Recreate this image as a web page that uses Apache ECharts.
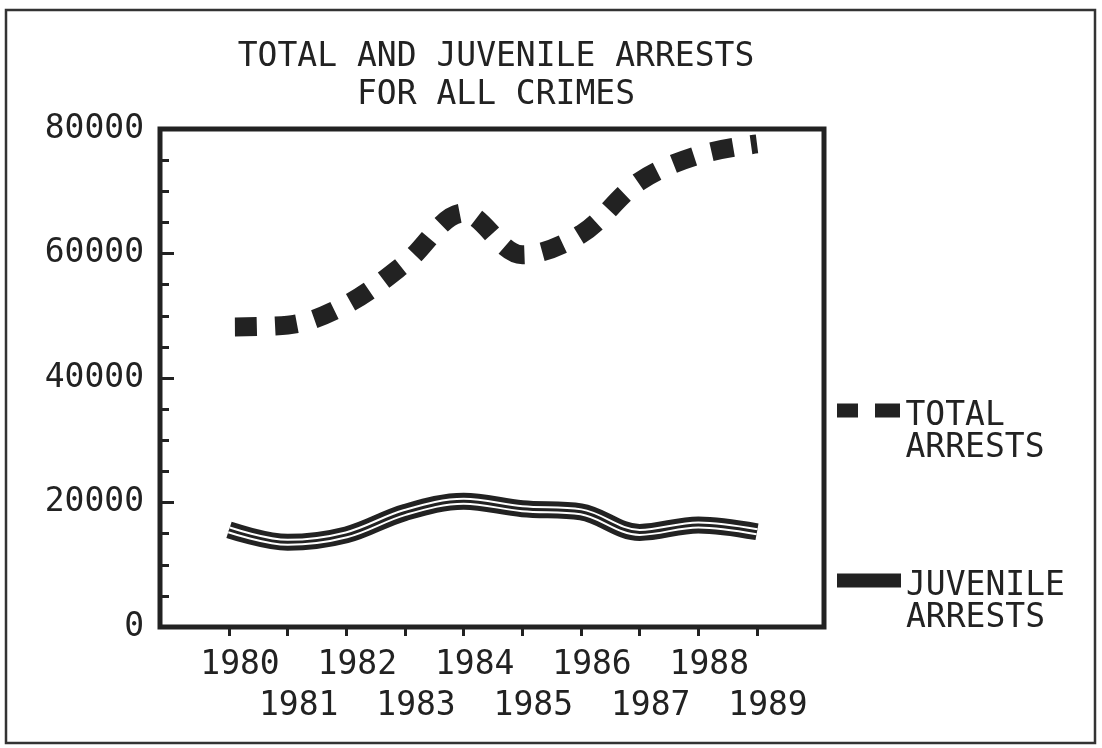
<!DOCTYPE html>
<html>
<head>
<meta charset="utf-8">
<script src="https://cdn.jsdelivr.net/npm/echarts@6/dist/echarts.min.js"></script>
<style>
html,body{margin:0;padding:0;background:#fff;}
#chart{width:1102px;height:748px;}
</style>
</head>
<body>
<div id="chart"></div>
<script>
var years = [1980, 1981, 1982, 1983, 1984, 1985, 1986, 1987, 1988, 1989];
var totalArrests = [48200, 48500, 51800, 58400, 66500, 59800, 63100, 71600, 75800, 77600];
var juvenileArrests = [15600, 13600, 14800, 18400, 20200, 19000, 18500, 15200, 16400, 15300];
var titleLines = ['TOTAL AND JUVENILE ARRESTS', 'FOR ALL CRIMES'];
var seriesNames = ['TOTAL ARRESTS', 'JUVENILE ARRESTS'];

var INK = '#222';
var FONT = "'DejaVu Sans Mono', 'Liberation Mono', monospace";

function pairs(vals) { return years.map(function (y, i) { return [y, vals[i]]; }); }

var chart = echarts.init(document.getElementById('chart'));
var legendCommon = {
  orient: 'vertical', padding: 0, itemWidth: 64, itemHeight: 14, left: 837,
  selectedMode: false,
  itemStyle: { color: INK, borderWidth: 0 },
  formatter: function (n) {
    var p = n.split(' ');
    return '{s| }\n{t|' + p[0] + '}\n{t|' + p[1] + '}';
  },
  textStyle: {
    fontFamily: FONT, fontSize: 33, color: INK,
    rich: {
      s: { fontFamily: FONT, fontSize: 33, lineHeight: 44 },
      t: { fontFamily: FONT, fontSize: 33, lineHeight: 32, color: INK }
    }
  }
};
function xAxisBase(showOdd, margin, ticks) {
  return {
    type: 'value', min: 1980, max: 1989, interval: 1, position: 'bottom',
    axisLine: { show: false, onZero: false },
    splitLine: { show: false },
    axisTick: { show: ticks, inside: false, length: 9, lineStyle: { color: INK, width: 3 } },
    axisLabel: {
      showMinLabel: true, showMaxLabel: true,
      margin: margin, fontFamily: FONT, fontSize: 33, color: INK,
      padding: [0, 0, 0, 22],
      formatter: function (v) {
        var y = Math.round(v);
        return ((y % 2 === 1) === showOdd) ? String(y) : '';
      }
    }
  };
}
chart.setOption({
  backgroundColor: '#fff',
  animation: false,
  title: {
    text: titleLines.join('\n'),
    left: 496, top: 38, padding: 0, textAlign: 'center',
    textStyle: { fontFamily: FONT, fontSize: 33, fontWeight: 'normal', color: INK, lineHeight: 38 }
  },
  graphic: [
    { type: 'rect', shape: { x: 6, y: 10, width: 1089, height: 733 },
      style: { fill: 'none', stroke: '#333', lineWidth: 2.5 }, silent: true },
    { type: 'rect', shape: { x: 160, y: 129, width: 664, height: 498 },
      style: { fill: 'none', stroke: INK, lineWidth: 5 }, silent: true }
  ],
  legend: [
    Object.assign({}, legendCommon, { top: 362, data: [{ name: seriesNames[0], icon: 'path://M0,0H21V14H0Z M38,0H63V14H38Z' }] }),
    Object.assign({}, legendCommon, { top: 532, data: [{ name: seriesNames[1], icon: 'rect' }] })
  ],
  grid: { left: 229, right: 345, top: 129, bottom: 121, show: false },
  xAxis: [xAxisBase(false, 22, true), xAxisBase(true, 63, false)],
  yAxis: {
    type: 'value', min: 0, max: 80000, interval: 20000, offset: 69,
    axisLine: { show: false },
    splitLine: { show: false },
    axisTick: { show: true, inside: true, length: 14, lineStyle: { color: INK, width: 3 } },
    minorTick: { show: true, splitNumber: 4, length: 9, lineStyle: { color: INK, width: 3 } },
    minorSplitLine: { show: false },
    axisLabel: { margin: 16, fontFamily: FONT, fontSize: 33, color: INK,
      formatter: function (v) { return String(v); } }
  },
  series: [
    {
      name: seriesNames[0], type: 'line', data: pairs(totalArrests), smooth: 0.35, clip: false,
      symbol: 'none', showSymbol: false, color: INK,
      lineStyle: { color: INK, width: 19, type: [22, 18], dashOffset: 34, cap: 'butt' }
    },
    {
      name: seriesNames[1], type: 'line', data: pairs(juvenileArrests), smooth: 0.35, clip: false,
      symbol: 'none', showSymbol: false, color: INK,
      lineStyle: { color: INK, width: 17, cap: 'butt' }
    },
    {
      type: 'line', data: pairs(juvenileArrests), smooth: 0.35, silent: true, clip: false,
      symbol: 'none', showSymbol: false,
      lineStyle: { color: '#fff', width: 7, cap: 'butt' }
    },
    {
      type: 'line', data: pairs(juvenileArrests), smooth: 0.35, silent: true, clip: false,
      symbol: 'none', showSymbol: false,
      lineStyle: { color: INK, width: 3, cap: 'butt' }
    }
  ]
});
</script>
</body>
</html>
